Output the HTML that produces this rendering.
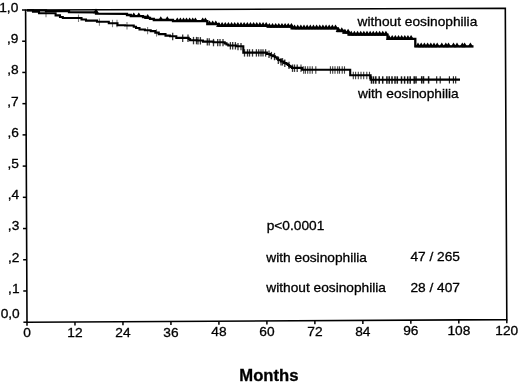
<!DOCTYPE html>
<html><head><meta charset="utf-8"><style>
html,body{margin:0;padding:0;background:#fff;}
svg{display:block;filter:blur(0.35px);}
</style></head><body>
<svg width="520" height="384" viewBox="0 0 520 384">
<rect width="520" height="384" fill="#fff"/>
<path d="M25.6,10.0 L505.3,8.3 L506.8,319.6 L27.0,322.2 Z" fill="none" stroke="#000" stroke-width="1.6"/>
<line x1="25.60" y1="10.00" x2="22.00" y2="10.00" stroke="#000" stroke-width="1.5"/>
<text transform="translate(18.30,11.90) scale(1.04,1)" font-family="Liberation Sans, sans-serif" font-size="13.2" text-anchor="end" stroke="#000" stroke-width="0.3">1,0</text>
<line x1="25.74" y1="41.22" x2="22.14" y2="41.22" stroke="#000" stroke-width="1.5"/>
<text transform="translate(18.44,43.12) scale(1.04,1)" font-family="Liberation Sans, sans-serif" font-size="13.2" text-anchor="end" stroke="#000" stroke-width="0.3">,9</text>
<line x1="25.88" y1="72.44" x2="22.28" y2="72.44" stroke="#000" stroke-width="1.5"/>
<text transform="translate(18.58,74.34) scale(1.04,1)" font-family="Liberation Sans, sans-serif" font-size="13.2" text-anchor="end" stroke="#000" stroke-width="0.3">,8</text>
<line x1="26.02" y1="103.66" x2="22.42" y2="103.66" stroke="#000" stroke-width="1.5"/>
<text transform="translate(18.72,105.56) scale(1.04,1)" font-family="Liberation Sans, sans-serif" font-size="13.2" text-anchor="end" stroke="#000" stroke-width="0.3">,7</text>
<line x1="26.16" y1="134.88" x2="22.56" y2="134.88" stroke="#000" stroke-width="1.5"/>
<text transform="translate(18.86,136.78) scale(1.04,1)" font-family="Liberation Sans, sans-serif" font-size="13.2" text-anchor="end" stroke="#000" stroke-width="0.3">,6</text>
<line x1="26.30" y1="166.10" x2="22.70" y2="166.10" stroke="#000" stroke-width="1.5"/>
<text transform="translate(19.00,168.00) scale(1.04,1)" font-family="Liberation Sans, sans-serif" font-size="13.2" text-anchor="end" stroke="#000" stroke-width="0.3">,5</text>
<line x1="26.44" y1="197.32" x2="22.84" y2="197.32" stroke="#000" stroke-width="1.5"/>
<text transform="translate(19.14,199.22) scale(1.04,1)" font-family="Liberation Sans, sans-serif" font-size="13.2" text-anchor="end" stroke="#000" stroke-width="0.3">,4</text>
<line x1="26.58" y1="228.54" x2="22.98" y2="228.54" stroke="#000" stroke-width="1.5"/>
<text transform="translate(19.28,230.44) scale(1.04,1)" font-family="Liberation Sans, sans-serif" font-size="13.2" text-anchor="end" stroke="#000" stroke-width="0.3">,3</text>
<line x1="26.72" y1="259.76" x2="23.12" y2="259.76" stroke="#000" stroke-width="1.5"/>
<text transform="translate(19.42,261.66) scale(1.04,1)" font-family="Liberation Sans, sans-serif" font-size="13.2" text-anchor="end" stroke="#000" stroke-width="0.3">,2</text>
<line x1="26.86" y1="290.98" x2="23.26" y2="290.98" stroke="#000" stroke-width="1.5"/>
<text transform="translate(19.56,292.88) scale(1.04,1)" font-family="Liberation Sans, sans-serif" font-size="13.2" text-anchor="end" stroke="#000" stroke-width="0.3">,1</text>
<line x1="27.00" y1="322.20" x2="23.40" y2="322.20" stroke="#000" stroke-width="1.5"/>
<text transform="translate(19.70,318.00) scale(1.04,1)" font-family="Liberation Sans, sans-serif" font-size="13.2" text-anchor="end" stroke="#000" stroke-width="0.3">0,0</text>
<line x1="27.00" y1="322.20" x2="27.00" y2="325.80" stroke="#000" stroke-width="1.5"/>
<text transform="translate(27.00,337.40) scale(1.04,1)" font-family="Liberation Sans, sans-serif" font-size="13.2" text-anchor="middle" stroke="#000" stroke-width="0.3">0</text>
<line x1="74.98" y1="321.94" x2="74.98" y2="325.54" stroke="#000" stroke-width="1.5"/>
<text transform="translate(74.98,337.14) scale(1.04,1)" font-family="Liberation Sans, sans-serif" font-size="13.2" text-anchor="middle" stroke="#000" stroke-width="0.3">12</text>
<line x1="122.96" y1="321.68" x2="122.96" y2="325.28" stroke="#000" stroke-width="1.5"/>
<text transform="translate(122.96,336.88) scale(1.04,1)" font-family="Liberation Sans, sans-serif" font-size="13.2" text-anchor="middle" stroke="#000" stroke-width="0.3">24</text>
<line x1="170.94" y1="321.42" x2="170.94" y2="325.02" stroke="#000" stroke-width="1.5"/>
<text transform="translate(170.94,336.62) scale(1.04,1)" font-family="Liberation Sans, sans-serif" font-size="13.2" text-anchor="middle" stroke="#000" stroke-width="0.3">36</text>
<line x1="218.92" y1="321.16" x2="218.92" y2="324.76" stroke="#000" stroke-width="1.5"/>
<text transform="translate(218.92,336.36) scale(1.04,1)" font-family="Liberation Sans, sans-serif" font-size="13.2" text-anchor="middle" stroke="#000" stroke-width="0.3">48</text>
<line x1="266.90" y1="320.90" x2="266.90" y2="324.50" stroke="#000" stroke-width="1.5"/>
<text transform="translate(266.90,336.10) scale(1.04,1)" font-family="Liberation Sans, sans-serif" font-size="13.2" text-anchor="middle" stroke="#000" stroke-width="0.3">60</text>
<line x1="314.88" y1="320.64" x2="314.88" y2="324.24" stroke="#000" stroke-width="1.5"/>
<text transform="translate(314.88,335.84) scale(1.04,1)" font-family="Liberation Sans, sans-serif" font-size="13.2" text-anchor="middle" stroke="#000" stroke-width="0.3">72</text>
<line x1="362.86" y1="320.38" x2="362.86" y2="323.98" stroke="#000" stroke-width="1.5"/>
<text transform="translate(362.86,335.58) scale(1.04,1)" font-family="Liberation Sans, sans-serif" font-size="13.2" text-anchor="middle" stroke="#000" stroke-width="0.3">84</text>
<line x1="410.84" y1="320.12" x2="410.84" y2="323.72" stroke="#000" stroke-width="1.5"/>
<text transform="translate(410.84,335.32) scale(1.04,1)" font-family="Liberation Sans, sans-serif" font-size="13.2" text-anchor="middle" stroke="#000" stroke-width="0.3">96</text>
<line x1="458.82" y1="319.86" x2="458.82" y2="323.46" stroke="#000" stroke-width="1.5"/>
<text transform="translate(458.82,335.06) scale(1.04,1)" font-family="Liberation Sans, sans-serif" font-size="13.2" text-anchor="middle" stroke="#000" stroke-width="0.3">108</text>
<line x1="506.80" y1="319.60" x2="506.80" y2="323.20" stroke="#000" stroke-width="1.5"/>
<text transform="translate(506.80,334.80) scale(1.04,1)" font-family="Liberation Sans, sans-serif" font-size="13.2" text-anchor="middle" stroke="#000" stroke-width="0.3">120</text>
<path d="M27.00,10.30 L33.00,10.30 L33.00,11.80 L39.00,11.80 L39.00,13.20 L55.60,13.20 L55.60,15.40 L60.00,15.40 L60.00,17.00 L62.80,17.00 L62.80,18.00 L81.50,18.00 L81.50,19.50 L86.00,19.50 L86.00,20.60 L97.00,20.60 L97.00,21.80 L108.80,21.80 L108.80,23.20 L117.50,23.20 L117.50,25.30 L125.05,25.30 L125.05,25.50 L132.60,25.50 L133.75,25.50 L133.75,26.75 L136.05,26.75 L136.05,28.00 L137.20,28.00 L139.50,28.00 L139.50,29.50 L141.80,29.50 L144.90,29.50 L144.90,30.30 L148.00,30.30 L150.70,30.30 L150.70,31.10 L153.40,31.10 L155.30,31.10 L155.30,32.60 L157.20,32.60 L158.75,32.60 L158.75,34.10 L160.30,34.10 L165.50,34.10 L165.50,35.60 L170.05,35.60 L170.05,36.20 L174.60,36.20 L176.30,36.20 L176.30,37.90 L178.00,37.90 L188.00,37.90 L188.70,37.90 L188.70,39.10 L190.10,39.10 L190.10,40.30 L190.80,40.30 L196.90,40.30 L196.90,40.50 L203.00,40.50 L203.00,41.60 L213.40,41.60 L213.40,42.30 L223.80,42.30 L224.70,42.30 L224.70,43.37 L226.50,43.37 L226.50,44.43 L228.30,44.43 L228.30,45.50 L229.20,45.50 L236.25,45.50 L236.25,46.30 L243.30,46.30 L243.30,52.60 L265.20,52.60 L266.90,52.60 L266.90,53.95 L270.30,53.95 L270.30,55.30 L272.00,55.30 L273.00,55.30 L273.00,56.25 L275.00,56.25 L275.00,57.20 L276.00,57.20 L276.75,57.20 L276.75,58.60 L278.25,58.60 L278.25,60.00 L279.00,60.00 L280.70,60.00 L280.70,61.50 L284.10,61.50 L284.10,63.00 L285.80,63.00 L286.47,63.00 L286.47,64.03 L287.80,64.03 L287.80,65.07 L289.13,65.07 L289.13,66.10 L289.80,66.10 L290.52,66.10 L290.52,67.00 L291.98,67.00 L291.98,67.90 L292.70,67.90 L302.00,67.90 L302.00,69.70 L350.20,69.70 L350.20,75.20 L370.60,75.20 L370.60,79.70 L415.30,79.70 L415.30,79.60 L460.00,79.60" fill="none" stroke="#000" stroke-width="2.1" stroke-linejoin="miter"/>
<line x1="46" y1="9.80" x2="46" y2="17.20" stroke="#000" stroke-width="1.1" opacity="0.5"/>
<line x1="78.5" y1="14.60" x2="78.5" y2="22.00" stroke="#000" stroke-width="1.1" opacity="0.5"/>
<line x1="99.4" y1="18.40" x2="99.4" y2="25.80" stroke="#000" stroke-width="1.1" opacity="0.5"/>
<line x1="112.5" y1="19.80" x2="112.5" y2="27.20" stroke="#000" stroke-width="1.1" opacity="0.5"/>
<line x1="117" y1="19.80" x2="117" y2="27.20" stroke="#000" stroke-width="1.1" opacity="0.5"/>
<line x1="127" y1="22.10" x2="127" y2="29.50" stroke="#000" stroke-width="1.1" opacity="0.5"/>
<line x1="147.6" y1="26.90" x2="147.6" y2="34.30" stroke="#000" stroke-width="1.1" opacity="0.5"/>
<line x1="156.5" y1="29.20" x2="156.5" y2="36.60" stroke="#000" stroke-width="1.1" opacity="0.5"/>
<line x1="172.7" y1="32.80" x2="172.7" y2="40.20" stroke="#000" stroke-width="1.3" opacity="0.8"/>
<line x1="182.7" y1="34.50" x2="182.7" y2="41.90" stroke="#000" stroke-width="1.3" opacity="0.8"/>
<line x1="188" y1="34.50" x2="188" y2="41.90" stroke="#000" stroke-width="1.3" opacity="0.8"/>
<line x1="193.5" y1="36.90" x2="193.5" y2="44.30" stroke="#000" stroke-width="1.3" opacity="0.8"/>
<line x1="196.5" y1="36.90" x2="196.5" y2="44.30" stroke="#000" stroke-width="1.3" opacity="0.8"/>
<line x1="198" y1="37.10" x2="198" y2="44.50" stroke="#000" stroke-width="1.3" opacity="0.8"/>
<line x1="200.4" y1="37.10" x2="200.4" y2="44.50" stroke="#000" stroke-width="1.3" opacity="0.8"/>
<line x1="207.3" y1="38.20" x2="207.3" y2="45.60" stroke="#000" stroke-width="1.3" opacity="0.8"/>
<line x1="209.2" y1="38.20" x2="209.2" y2="45.60" stroke="#000" stroke-width="1.3" opacity="0.8"/>
<line x1="213.5" y1="38.90" x2="213.5" y2="46.30" stroke="#000" stroke-width="1.3" opacity="0.8"/>
<line x1="217.7" y1="38.90" x2="217.7" y2="46.30" stroke="#000" stroke-width="1.3" opacity="0.8"/>
<line x1="220" y1="38.90" x2="220" y2="46.30" stroke="#000" stroke-width="1.3" opacity="0.8"/>
<line x1="223" y1="38.90" x2="223" y2="46.30" stroke="#000" stroke-width="1.3" opacity="0.8"/>
<line x1="230.4" y1="42.10" x2="230.4" y2="49.50" stroke="#000" stroke-width="1.3" opacity="0.8"/>
<line x1="232.7" y1="42.10" x2="232.7" y2="49.50" stroke="#000" stroke-width="1.3" opacity="0.8"/>
<line x1="235.4" y1="42.10" x2="235.4" y2="49.50" stroke="#000" stroke-width="1.3" opacity="0.8"/>
<line x1="238" y1="42.90" x2="238" y2="50.30" stroke="#000" stroke-width="1.3" opacity="0.8"/>
<line x1="241" y1="42.90" x2="241" y2="50.30" stroke="#000" stroke-width="1.3" opacity="0.8"/>
<line x1="244.5" y1="49.20" x2="244.5" y2="56.60" stroke="#000" stroke-width="1.3" opacity="0.8"/>
<line x1="247.5" y1="49.20" x2="247.5" y2="56.60" stroke="#000" stroke-width="1.3" opacity="0.8"/>
<line x1="249.5" y1="49.20" x2="249.5" y2="56.60" stroke="#000" stroke-width="1.3" opacity="0.8"/>
<line x1="252.5" y1="49.20" x2="252.5" y2="56.60" stroke="#000" stroke-width="1.3" opacity="0.8"/>
<line x1="256.4" y1="49.20" x2="256.4" y2="56.60" stroke="#000" stroke-width="1.3" opacity="0.8"/>
<line x1="258.7" y1="49.20" x2="258.7" y2="56.60" stroke="#000" stroke-width="1.3" opacity="0.8"/>
<line x1="261" y1="49.20" x2="261" y2="56.60" stroke="#000" stroke-width="1.3" opacity="0.8"/>
<line x1="263" y1="49.20" x2="263" y2="56.60" stroke="#000" stroke-width="1.3" opacity="0.8"/>
<line x1="265.6" y1="49.20" x2="265.6" y2="56.60" stroke="#000" stroke-width="1.3" opacity="0.8"/>
<line x1="269" y1="50.55" x2="269" y2="57.95" stroke="#000" stroke-width="1.3" opacity="0.8"/>
<line x1="271.4" y1="51.90" x2="271.4" y2="59.30" stroke="#000" stroke-width="1.3" opacity="0.8"/>
<line x1="274.5" y1="52.85" x2="274.5" y2="60.25" stroke="#000" stroke-width="1.3" opacity="0.8"/>
<line x1="278.3" y1="56.60" x2="278.3" y2="64.00" stroke="#000" stroke-width="1.3" opacity="0.8"/>
<line x1="281" y1="58.10" x2="281" y2="65.50" stroke="#000" stroke-width="1.3" opacity="0.8"/>
<line x1="282.5" y1="58.10" x2="282.5" y2="65.50" stroke="#000" stroke-width="1.3" opacity="0.8"/>
<line x1="284.8" y1="59.60" x2="284.8" y2="67.00" stroke="#000" stroke-width="1.3" opacity="0.8"/>
<line x1="289" y1="61.67" x2="289" y2="69.07" stroke="#000" stroke-width="1.3" opacity="0.8"/>
<line x1="292.5" y1="64.50" x2="292.5" y2="71.90" stroke="#000" stroke-width="1.3" opacity="0.8"/>
<line x1="294.5" y1="64.50" x2="294.5" y2="71.90" stroke="#000" stroke-width="1.3" opacity="0.8"/>
<line x1="297.2" y1="64.50" x2="297.2" y2="71.90" stroke="#000" stroke-width="1.3" opacity="0.8"/>
<line x1="301" y1="64.50" x2="301" y2="71.90" stroke="#000" stroke-width="1.1" opacity="0.75"/>
<line x1="303.7" y1="66.30" x2="303.7" y2="73.70" stroke="#000" stroke-width="1.1" opacity="0.75"/>
<line x1="305.4" y1="66.30" x2="305.4" y2="73.70" stroke="#000" stroke-width="1.1" opacity="0.75"/>
<line x1="307.7" y1="66.30" x2="307.7" y2="73.70" stroke="#000" stroke-width="1.1" opacity="0.75"/>
<line x1="310" y1="66.30" x2="310" y2="73.70" stroke="#000" stroke-width="1.1" opacity="0.75"/>
<line x1="312.3" y1="66.30" x2="312.3" y2="73.70" stroke="#000" stroke-width="1.1" opacity="0.75"/>
<line x1="315.8" y1="66.30" x2="315.8" y2="73.70" stroke="#000" stroke-width="1.1" opacity="0.75"/>
<line x1="330.4" y1="66.30" x2="330.4" y2="73.70" stroke="#000" stroke-width="1.1" opacity="0.75"/>
<line x1="332.7" y1="66.30" x2="332.7" y2="73.70" stroke="#000" stroke-width="1.1" opacity="0.75"/>
<line x1="335" y1="66.30" x2="335" y2="73.70" stroke="#000" stroke-width="1.1" opacity="0.75"/>
<line x1="337.7" y1="66.30" x2="337.7" y2="73.70" stroke="#000" stroke-width="1.1" opacity="0.75"/>
<line x1="339.5" y1="66.30" x2="339.5" y2="73.70" stroke="#000" stroke-width="1.1" opacity="0.75"/>
<line x1="342.2" y1="66.30" x2="342.2" y2="73.70" stroke="#000" stroke-width="1.1" opacity="0.75"/>
<line x1="344.5" y1="66.30" x2="344.5" y2="73.70" stroke="#000" stroke-width="1.1" opacity="0.75"/>
<line x1="353.3" y1="71.80" x2="353.3" y2="79.20" stroke="#000" stroke-width="1.1" opacity="0.75"/>
<line x1="355.6" y1="71.80" x2="355.6" y2="79.20" stroke="#000" stroke-width="1.1" opacity="0.75"/>
<line x1="358.3" y1="71.80" x2="358.3" y2="79.20" stroke="#000" stroke-width="1.1" opacity="0.75"/>
<line x1="361" y1="71.80" x2="361" y2="79.20" stroke="#000" stroke-width="1.1" opacity="0.75"/>
<line x1="363.7" y1="71.80" x2="363.7" y2="79.20" stroke="#000" stroke-width="1.1" opacity="0.75"/>
<line x1="366.8" y1="71.80" x2="366.8" y2="79.20" stroke="#000" stroke-width="1.1" opacity="0.75"/>
<line x1="369.5" y1="71.80" x2="369.5" y2="79.20" stroke="#000" stroke-width="1.1" opacity="0.75"/>
<line x1="371.5" y1="76.30" x2="371.5" y2="83.70" stroke="#000" stroke-width="1.5" opacity="0.9"/>
<line x1="373.5" y1="76.30" x2="373.5" y2="83.70" stroke="#000" stroke-width="1.5" opacity="0.9"/>
<line x1="375.8" y1="76.30" x2="375.8" y2="83.70" stroke="#000" stroke-width="1.5" opacity="0.9"/>
<line x1="379.2" y1="76.30" x2="379.2" y2="83.70" stroke="#000" stroke-width="1.5" opacity="0.9"/>
<line x1="382.7" y1="76.30" x2="382.7" y2="83.70" stroke="#000" stroke-width="1.5" opacity="0.9"/>
<line x1="386.9" y1="76.30" x2="386.9" y2="83.70" stroke="#000" stroke-width="1.5" opacity="0.9"/>
<line x1="389.2" y1="76.30" x2="389.2" y2="83.70" stroke="#000" stroke-width="1.5" opacity="0.9"/>
<line x1="392" y1="76.30" x2="392" y2="83.70" stroke="#000" stroke-width="1.5" opacity="0.9"/>
<line x1="395" y1="76.30" x2="395" y2="83.70" stroke="#000" stroke-width="1.5" opacity="0.9"/>
<line x1="397.3" y1="76.30" x2="397.3" y2="83.70" stroke="#000" stroke-width="1.5" opacity="0.9"/>
<line x1="401.5" y1="76.30" x2="401.5" y2="83.70" stroke="#000" stroke-width="1.5" opacity="0.9"/>
<line x1="404.6" y1="76.30" x2="404.6" y2="83.70" stroke="#000" stroke-width="1.5" opacity="0.9"/>
<line x1="407.7" y1="76.30" x2="407.7" y2="83.70" stroke="#000" stroke-width="1.5" opacity="0.9"/>
<line x1="410.2" y1="76.30" x2="410.2" y2="83.70" stroke="#000" stroke-width="1.5" opacity="0.9"/>
<line x1="414.2" y1="76.30" x2="414.2" y2="83.70" stroke="#000" stroke-width="1.5" opacity="0.9"/>
<line x1="416" y1="76.20" x2="416" y2="83.60" stroke="#000" stroke-width="1.5" opacity="0.9"/>
<line x1="421.7" y1="76.20" x2="421.7" y2="83.60" stroke="#000" stroke-width="1.5" opacity="0.9"/>
<line x1="423.5" y1="76.20" x2="423.5" y2="83.60" stroke="#000" stroke-width="1.5" opacity="0.9"/>
<line x1="428.6" y1="76.20" x2="428.6" y2="83.60" stroke="#000" stroke-width="1.5" opacity="0.9"/>
<line x1="436.7" y1="76.20" x2="436.7" y2="83.60" stroke="#000" stroke-width="1.1" opacity="0.9"/>
<line x1="440.2" y1="76.20" x2="440.2" y2="83.60" stroke="#000" stroke-width="1.1" opacity="0.9"/>
<line x1="449.4" y1="76.20" x2="449.4" y2="83.60" stroke="#000" stroke-width="1.1" opacity="0.9"/>
<line x1="453.4" y1="76.20" x2="453.4" y2="83.60" stroke="#000" stroke-width="1.1" opacity="0.9"/>
<line x1="455.7" y1="76.20" x2="455.7" y2="83.60" stroke="#000" stroke-width="1.1" opacity="0.9"/>
<path d="M27.00,10.30 L46.00,10.30 L46.00,11.20 L69.00,11.20 L69.00,12.20 L96.00,12.30 L96.00,13.70 L127.00,13.80 L127.00,15.00 L130.80,15.00 L130.80,16.20 L143.00,16.20 L143.00,17.00 L145.40,17.00 L145.40,17.80 L150.00,17.80 L150.00,18.80 L153.80,18.80 L153.80,20.00 L173.00,20.00 L173.00,21.20 L207.30,21.20 L207.30,24.20 L218.50,24.20 L218.50,25.80 L267.80,25.80 L267.80,26.70 L291.60,26.70 L291.60,28.30 L337.70,28.30 L337.70,31.00 L343.80,31.00 L343.80,32.60 L348.50,32.60 L348.50,34.60 L387.50,34.60 L387.50,38.80 L415.30,38.80 L415.30,46.40 L473.50,46.40" fill="none" stroke="#000" stroke-width="2.3" stroke-linejoin="miter"/>
<path d="M93.00,13.20 L96.00,8.50 L99.00,13.20 Z" fill="#000"/>
<path d="M130.80,17.10 L133.80,12.40 L136.80,17.10 Z" fill="#000"/>
<path d="M135.80,17.10 L138.80,12.40 L141.80,17.10 Z" fill="#000"/>
<path d="M144.70,18.70 L147.70,14.00 L150.70,18.70 Z" fill="#000"/>
<path d="M157.80,20.90 L160.80,16.20 L163.80,20.90 Z" fill="#000"/>
<path d="M164.30,20.90 L167.30,16.20 L170.30,20.90 Z" fill="#000"/>
<path d="M174.30,22.10 L177.30,17.40 L180.30,22.10 Z" fill="#000"/>
<path d="M177.40,22.10 L180.40,17.40 L183.40,22.10 Z" fill="#000"/>
<path d="M180.50,22.10 L183.50,17.40 L186.50,22.10 Z" fill="#000"/>
<path d="M183.50,22.10 L186.50,17.40 L189.50,22.10 Z" fill="#000"/>
<path d="M186.60,22.10 L189.60,17.40 L192.60,22.10 Z" fill="#000"/>
<path d="M189.70,22.10 L192.70,17.40 L195.70,22.10 Z" fill="#000"/>
<path d="M192.40,22.10 L195.40,17.40 L198.40,22.10 Z" fill="#000"/>
<path d="M199.70,22.10 L202.70,17.40 L205.70,22.10 Z" fill="#000"/>
<path d="M202.40,22.10 L205.40,17.40 L208.40,22.10 Z" fill="#000"/>
<path d="M206.50,25.10 L209.50,20.40 L212.50,25.10 Z" fill="#000"/>
<path d="M209.65,25.10 L212.65,20.40 L215.65,25.10 Z" fill="#000"/>
<path d="M212.80,25.10 L215.80,20.40 L218.80,25.10 Z" fill="#000"/>
<path d="M215.95,26.70 L218.95,22.00 L221.95,26.70 Z" fill="#000"/>
<path d="M219.10,26.70 L222.10,22.00 L225.10,26.70 Z" fill="#000"/>
<path d="M222.25,26.70 L225.25,22.00 L228.25,26.70 Z" fill="#000"/>
<path d="M225.40,26.70 L228.40,22.00 L231.40,26.70 Z" fill="#000"/>
<path d="M228.55,26.70 L231.55,22.00 L234.55,26.70 Z" fill="#000"/>
<path d="M231.70,26.70 L234.70,22.00 L237.70,26.70 Z" fill="#000"/>
<path d="M234.85,26.70 L237.85,22.00 L240.85,26.70 Z" fill="#000"/>
<path d="M238.00,26.70 L241.00,22.00 L244.00,26.70 Z" fill="#000"/>
<path d="M241.15,26.70 L244.15,22.00 L247.15,26.70 Z" fill="#000"/>
<path d="M244.30,26.70 L247.30,22.00 L250.30,26.70 Z" fill="#000"/>
<path d="M247.45,26.70 L250.45,22.00 L253.45,26.70 Z" fill="#000"/>
<path d="M250.60,26.70 L253.60,22.00 L256.60,26.70 Z" fill="#000"/>
<path d="M253.75,26.70 L256.75,22.00 L259.75,26.70 Z" fill="#000"/>
<path d="M256.90,26.70 L259.90,22.00 L262.90,26.70 Z" fill="#000"/>
<path d="M260.05,26.70 L263.05,22.00 L266.05,26.70 Z" fill="#000"/>
<path d="M263.20,26.70 L266.20,22.00 L269.20,26.70 Z" fill="#000"/>
<path d="M266.35,27.60 L269.35,22.90 L272.35,27.60 Z" fill="#000"/>
<path d="M269.50,27.60 L272.50,22.90 L275.50,27.60 Z" fill="#000"/>
<path d="M272.65,27.60 L275.65,22.90 L278.65,27.60 Z" fill="#000"/>
<path d="M275.80,27.60 L278.80,22.90 L281.80,27.60 Z" fill="#000"/>
<path d="M278.95,27.60 L281.95,22.90 L284.95,27.60 Z" fill="#000"/>
<path d="M282.10,27.60 L285.10,22.90 L288.10,27.60 Z" fill="#000"/>
<path d="M285.25,27.60 L288.25,22.90 L291.25,27.60 Z" fill="#000"/>
<path d="M288.40,27.60 L291.40,22.90 L294.40,27.60 Z" fill="#000"/>
<path d="M291.55,29.20 L294.55,24.50 L297.55,29.20 Z" fill="#000"/>
<path d="M294.70,29.20 L297.70,24.50 L300.70,29.20 Z" fill="#000"/>
<path d="M297.85,29.20 L300.85,24.50 L303.85,29.20 Z" fill="#000"/>
<path d="M301.00,29.20 L304.00,24.50 L307.00,29.20 Z" fill="#000"/>
<path d="M304.15,29.20 L307.15,24.50 L310.15,29.20 Z" fill="#000"/>
<path d="M307.30,29.20 L310.30,24.50 L313.30,29.20 Z" fill="#000"/>
<path d="M310.45,29.20 L313.45,24.50 L316.45,29.20 Z" fill="#000"/>
<path d="M313.60,29.20 L316.60,24.50 L319.60,29.20 Z" fill="#000"/>
<path d="M316.75,29.20 L319.75,24.50 L322.75,29.20 Z" fill="#000"/>
<path d="M319.90,29.20 L322.90,24.50 L325.90,29.20 Z" fill="#000"/>
<path d="M323.05,29.20 L326.05,24.50 L329.05,29.20 Z" fill="#000"/>
<path d="M326.20,29.20 L329.20,24.50 L332.20,29.20 Z" fill="#000"/>
<path d="M329.35,29.20 L332.35,24.50 L335.35,29.20 Z" fill="#000"/>
<path d="M332.50,29.20 L335.50,24.50 L338.50,29.20 Z" fill="#000"/>
<path d="M335.65,31.90 L338.65,27.20 L341.65,31.90 Z" fill="#000"/>
<path d="M338.80,31.90 L341.80,27.20 L344.80,31.90 Z" fill="#000"/>
<path d="M341.95,33.50 L344.95,28.80 L347.95,33.50 Z" fill="#000"/>
<path d="M345.10,33.50 L348.10,28.80 L351.10,33.50 Z" fill="#000"/>
<path d="M348.25,35.50 L351.25,30.80 L354.25,35.50 Z" fill="#000"/>
<path d="M351.40,35.50 L354.40,30.80 L357.40,35.50 Z" fill="#000"/>
<path d="M354.55,35.50 L357.55,30.80 L360.55,35.50 Z" fill="#000"/>
<path d="M357.70,35.50 L360.70,30.80 L363.70,35.50 Z" fill="#000"/>
<path d="M360.85,35.50 L363.85,30.80 L366.85,35.50 Z" fill="#000"/>
<path d="M364.00,35.50 L367.00,30.80 L370.00,35.50 Z" fill="#000"/>
<path d="M367.15,35.50 L370.15,30.80 L373.15,35.50 Z" fill="#000"/>
<path d="M370.30,35.50 L373.30,30.80 L376.30,35.50 Z" fill="#000"/>
<path d="M373.45,35.50 L376.45,30.80 L379.45,35.50 Z" fill="#000"/>
<path d="M376.60,35.50 L379.60,30.80 L382.60,35.50 Z" fill="#000"/>
<path d="M379.75,35.50 L382.75,30.80 L385.75,35.50 Z" fill="#000"/>
<path d="M382.90,35.50 L385.90,30.80 L388.90,35.50 Z" fill="#000"/>
<path d="M386.05,39.70 L389.05,35.00 L392.05,39.70 Z" fill="#000"/>
<path d="M389.20,39.70 L392.20,35.00 L395.20,39.70 Z" fill="#000"/>
<path d="M392.35,39.70 L395.35,35.00 L398.35,39.70 Z" fill="#000"/>
<path d="M395.50,39.70 L398.50,35.00 L401.50,39.70 Z" fill="#000"/>
<path d="M398.65,39.70 L401.65,35.00 L404.65,39.70 Z" fill="#000"/>
<path d="M401.80,39.70 L404.80,35.00 L407.80,39.70 Z" fill="#000"/>
<path d="M404.95,39.70 L407.95,35.00 L410.95,39.70 Z" fill="#000"/>
<path d="M408.10,39.70 L411.10,35.00 L414.10,39.70 Z" fill="#000"/>
<path d="M415.00,47.30 L418.00,42.60 L421.00,47.30 Z" fill="#000"/>
<path d="M418.20,47.30 L421.20,42.60 L424.20,47.30 Z" fill="#000"/>
<path d="M421.40,47.30 L424.40,42.60 L427.40,47.30 Z" fill="#000"/>
<path d="M424.60,47.30 L427.60,42.60 L430.60,47.30 Z" fill="#000"/>
<path d="M427.80,47.30 L430.80,42.60 L433.80,47.30 Z" fill="#000"/>
<path d="M431.00,47.30 L434.00,42.60 L437.00,47.30 Z" fill="#000"/>
<path d="M434.20,47.30 L437.20,42.60 L440.20,47.30 Z" fill="#000"/>
<path d="M438.80,47.30 L441.80,42.60 L444.80,47.30 Z" fill="#000"/>
<path d="M442.80,47.30 L445.80,42.60 L448.80,47.30 Z" fill="#000"/>
<path d="M445.50,47.30 L448.50,42.60 L451.50,47.30 Z" fill="#000"/>
<path d="M450.50,47.30 L453.50,42.60 L456.50,47.30 Z" fill="#000"/>
<path d="M454.00,47.30 L457.00,42.60 L460.00,47.30 Z" fill="#000"/>
<path d="M459.30,47.30 L462.30,42.60 L465.30,47.30 Z" fill="#000"/>
<path d="M461.60,47.30 L464.60,42.60 L467.60,47.30 Z" fill="#000"/>
<path d="M467.40,47.30 L470.40,42.60 L473.40,47.30 Z" fill="#000"/>
<text transform="translate(357.60,26.30) scale(1.04,1)" font-family="Liberation Sans, sans-serif" font-size="13.2" text-anchor="start" stroke="#000" stroke-width="0.3">without eosinophilia</text>
<text transform="translate(358.10,98.30) scale(1.04,1)" font-family="Liberation Sans, sans-serif" font-size="13.2" text-anchor="start" stroke="#000" stroke-width="0.3">with eosinophilia</text>
<text transform="translate(266.70,230.30) scale(1.04,1)" font-family="Liberation Sans, sans-serif" font-size="13.2" text-anchor="start" stroke="#000" stroke-width="0.3">p&lt;0.0001</text>
<text transform="translate(266.30,261.80) scale(1.04,1)" font-family="Liberation Sans, sans-serif" font-size="13.2" text-anchor="start" stroke="#000" stroke-width="0.3">with eosinophilia</text>
<text transform="translate(266.30,292.20) scale(1.04,1)" font-family="Liberation Sans, sans-serif" font-size="13.2" text-anchor="start" stroke="#000" stroke-width="0.3">without eosinophilia</text>
<text transform="translate(410.40,261.10) scale(1.04,1)" font-family="Liberation Sans, sans-serif" font-size="13.2" text-anchor="start" stroke="#000" stroke-width="0.3">47 / 265</text>
<text transform="translate(410.40,292.20) scale(1.04,1)" font-family="Liberation Sans, sans-serif" font-size="13.2" text-anchor="start" stroke="#000" stroke-width="0.3">28 / 407</text>
<text transform="translate(268.90,381.00) scale(1.04,1)" font-family="Liberation Sans, sans-serif" font-size="16.0" font-weight="bold" text-anchor="middle" stroke="#000" stroke-width="0.3">Months</text>
</svg>
</body></html>
